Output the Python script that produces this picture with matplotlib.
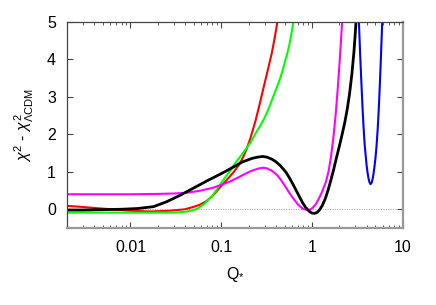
#!/usr/bin/env python3
"""
Delta chi^2 relative to LCDM as a function of Q*.
"""

import matplotlib
matplotlib.use("Agg")
import matplotlib.pyplot as plt
from matplotlib.ticker import FixedLocator, NullFormatter

# values
red_q = [0.002, 0.003, 0.0047, 0.007, 0.01, 0.0165, 0.027, 0.04, 0.049, 0.058,
         0.069, 0.08, 0.1, 0.125, 0.14, 0.16, 0.175, 0.19, 0.21, 0.238, 0.265,
         0.295, 0.325, 0.361, 0.39, 0.42, 0.45]
red_chi = [0.09, 0.06, 0.02, -0.01, -0.04, -0.06, -0.04, 0.0, 0.06, 0.12,
           0.22, 0.35, 0.62, 0.88, 1.02, 1.22, 1.4, 1.6, 1.9, 2.35, 2.8,
           3.28, 3.7, 4.17, 4.6, 5.06, 5.5]

green_q = [0.002, 0.01, 0.02, 0.03, 0.04, 0.048, 0.055, 0.065, 0.08, 0.1,
           0.112, 0.125, 0.15, 0.17, 0.19, 0.215, 0.24, 0.265, 0.295, 0.325,
           0.36, 0.39, 0.42, 0.45, 0.48, 0.51, 0.54, 0.57, 0.6, 0.63, 0.66]
green_chi = [-0.09, -0.09, -0.09, -0.09, -0.07, -0.03, 0.02, 0.14, 0.36, 0.7,
             0.87, 1.02, 1.3, 1.47, 1.63, 1.82, 2.03, 2.2, 2.4, 2.62,
             2.9, 3.12, 3.32, 3.52, 3.75, 3.98, 4.2, 4.45, 4.75, 5.06, 5.4]

black_q = [0.002, 0.003, 0.005, 0.008, 0.012, 0.018, 0.025, 0.035, 0.05, 0.07,
           0.1, 0.13, 0.17, 0.22, 0.25, 0.288, 0.32, 0.36, 0.4, 0.45, 0.52,
           0.57, 0.62, 0.67, 0.73, 0.79, 0.85, 0.95, 1.0, 1.06, 1.13, 1.2,
           1.3, 1.4, 1.5, 1.6, 1.72, 1.85, 2.0, 2.15, 2.3, 2.45, 2.6, 2.75,
           2.9, 3.0, 3.1]
black_chi = [-0.02, -0.02, -0.01, 0.0, 0.02, 0.07, 0.2, 0.37, 0.57, 0.76,
             0.95, 1.1, 1.26, 1.36, 1.39, 1.41, 1.39, 1.34, 1.27, 1.16, 0.98,
             0.82, 0.66, 0.5, 0.33, 0.17, 0.05, -0.07, -0.1, -0.11, -0.09, -0.03,
             0.1, 0.28, 0.5, 0.74, 1.03, 1.35, 1.68, 2.0, 2.32, 2.68, 3.1, 3.6,
             4.2, 4.7, 5.25]

magenta_q = [0.002, 0.01, 0.02, 0.03, 0.042, 0.06, 0.08, 0.1, 0.125, 0.16,
             0.2, 0.23, 0.26, 0.29, 0.32, 0.36, 0.41, 0.45, 0.48, 0.52, 0.56,
             0.6, 0.65, 0.7, 0.75, 0.8, 0.85, 0.93, 1.0, 1.1, 1.2, 1.3, 1.42,
             1.52, 1.62, 1.72, 1.82, 1.92, 2.02, 2.1, 2.18]
magenta_chi = [0.40, 0.40, 0.41, 0.42, 0.44, 0.5, 0.57, 0.65, 0.74, 0.87,
               0.99, 1.05, 1.09, 1.11, 1.09, 1.03, 0.92, 0.8, 0.7, 0.57, 0.45,
               0.34, 0.23, 0.13, 0.06, 0.01, -0.01, -0.02, 0.02, 0.13, 0.3, 0.48, 0.72,
               1.0, 1.4, 1.9, 2.5, 3.2, 3.95, 4.6, 5.25]

blue_q = [3.2, 3.29, 3.4, 3.5, 3.6, 3.7, 3.8, 3.9, 4.0, 4.1, 4.2, 4.3, 4.42,
          4.55, 4.7, 4.85, 5.0, 5.15, 5.3, 5.45, 5.6, 5.75, 5.9, 6.05]
blue_chi = [5.8, 5.0, 4.1, 3.4, 2.75, 2.2, 1.75, 1.45, 1.17, 0.97, 0.82, 0.72, 0.67,
            0.71, 0.85, 1.08, 1.35, 1.7, 2.15, 2.7, 3.35, 4.05, 4.8, 5.6]

xtick_vals = [0.01, 0.1, 1, 10]
xtick_labels = ["0.01", "0.1", "1", "10"]
ytick_vals = [0, 1, 2, 3, 4, 5]


def main():
    plt.rcParams["font.family"] = ["Liberation Sans", "DejaVu Sans"]
    plt.rcParams["mathtext.fontset"] = "custom"
    plt.rcParams["mathtext.rm"] = "Liberation Sans"
    plt.rcParams["mathtext.it"] = "Liberation Sans:italic"

    fig = plt.figure(figsize=(4.36, 3.05), dpi=100)
    ax = fig.add_axes([0.1537, 0.2525, 0.77, 0.6755])

    # zero reference line
    ax.axhline(0, color="#999999", lw=0.7, ls=(0, (1, 1.5)), zorder=1)

    ax.plot(red_q, red_chi, color="#ff0000", lw=1.5)
    ax.plot(green_q, green_chi, color="#00ff00", lw=1.5)
    ax.plot(magenta_q, magenta_chi, color="#ff00ff", lw=1.5)
    ax.plot(black_q, black_chi, color="black", lw=2.0)
    ax.plot(blue_q, blue_chi, color="#0000ff", lw=1.5)

    ax.set_xscale("log")
    ax.set_xlim(0.002, 10)
    ax.set_ylim(-0.5, 5)

    ax.xaxis.set_major_locator(FixedLocator(xtick_vals))
    ax.set_xticklabels(xtick_labels)
    minors = [m * 10.0 ** e for e in range(-3, 1) for m in range(2, 10)]
    ax.xaxis.set_minor_locator(FixedLocator(minors))
    ax.xaxis.set_minor_formatter(NullFormatter())
    ax.set_yticks(ytick_vals)

    ax.tick_params(which="both", direction="in", top=True, right=True,
                   labelsize=11.5, color="#444444")
    ax.tick_params(which="major", length=4.5, width=0.8)
    ax.tick_params(which="minor", length=2.5, width=0.6)
    ax.tick_params(axis="x", pad=9)
    ax.tick_params(axis="y", pad=8)

    for side in ("left", "top"):
        ax.spines[side].set_color("#444444")
        ax.spines[side].set_linewidth(0.9)
    for side in ("right", "bottom"):
        ax.spines[side].set_color("#999999")
        ax.spines[side].set_linewidth(1.6)

    ax.set_xlabel(r"Q$_{*}$", fontsize=11.5, labelpad=7)
    ax.set_ylabel(r"$\chi^2$ - $\chi^2_{\Lambda\mathrm{CDM}}$", fontsize=11.5, labelpad=8)

    plt.savefig("out.png", dpi=100)
    plt.close()


if __name__ == "__main__":
    main()
